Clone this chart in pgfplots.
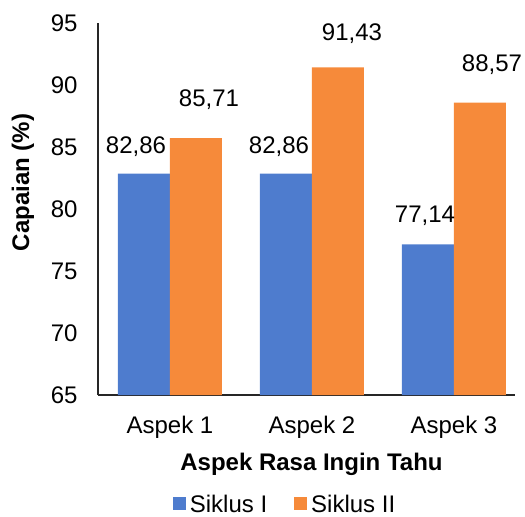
\documentclass[border=0pt]{standalone}
\usepackage{fontspec}
\setmainfont{Liberation Sans}
\usepackage{pgfplots}
\usepackage{pgfplotstable}
\pgfplotsset{compat=1.18}
\definecolor{sblue}{RGB}{78,124,206}
\definecolor{sorange}{RGB}{246,138,58}

\pgfplotstableread{
x y dx dy lab
0 82.86 -4 10 82,86
1 82.86 -3.5 10 82,86
2 77.14 -1.5 11 77,14
}\siklusI
\pgfplotstableread{
x y dx dy lab
0 85.71 6.5 16 85,71
1 91.43 7 13.5 91,43
2 88.57 6 15.5 88,57
}\siklusII

\begin{document}
\fontsize{12}{14.4}\selectfont
\begin{tikzpicture}
\path[use as bounding box] (-49pt,-60.5pt) rectangle (213.5pt,197.5pt);
\begin{axis}[
  at={(0,0)}, anchor=south west,
  scale only axis,
  width=208.5pt, height=186pt,
  font=\fontsize{12}{14.4}\selectfont,
  /pgf/number format/assume math mode=true,
  ybar=0pt, bar width=26pt,
  xmin=-0.507, xmax=2.43,
  ymin=65, ymax=95,
  ytick={65,70,75,80,85,90,95},
  xtick={0,1,2},
  xticklabels={Aspek 1,Aspek 2,Aspek 3},
  axis x line*=bottom, axis y line*=left,
  axis line style={-, black!85, line width=0.8pt},
  major tick length=0pt,
  y tick label style={anchor=east, inner sep=0pt, xshift=-10pt},
  x tick label style={anchor=base, inner sep=0pt, yshift=-19pt},
  xlabel={\textbf{Aspek Rasa Ingin Tahu}},
  xlabel style={at={(axis description cs:0.512,0)}, anchor=base, yshift=-37.5pt, inner sep=0pt},
  ylabel={\textbf{Capaian (\%)}},
  ylabel style={at={(axis description cs:-0.18,0.571)}, anchor=center, inner sep=0pt},
  clip=false,
  legend columns=2,
  legend style={draw=none, fill=none, inner sep=0pt,
    nodes={inner ysep=0pt},
    at={(axis description cs:0.451,-0.298)}, anchor=center,
    /tikz/every even column/.append style={column sep=11.5pt}},
  legend image code/.code={\fill[#1] (-1.5pt,-2.2pt) rectangle (5pt,4.3pt);},
  point meta=explicit symbolic,
  visualization depends on={\thisrow{dx} \as \dx},
  visualization depends on={\thisrow{dy} \as \dy},
  nodes near coords,
  nodes near coords style={anchor=base, inner sep=0pt, xshift=\dx, yshift=\dy, text=black},
]
\addplot[fill=sblue, draw=none] table[x=x, y=y, meta=lab] {\siklusI};
\addplot[fill=sorange, draw=none] table[x=x, y=y, meta=lab] {\siklusII};
\legend{Siklus I, Siklus II}
\end{axis}
\end{tikzpicture}
\end{document}
